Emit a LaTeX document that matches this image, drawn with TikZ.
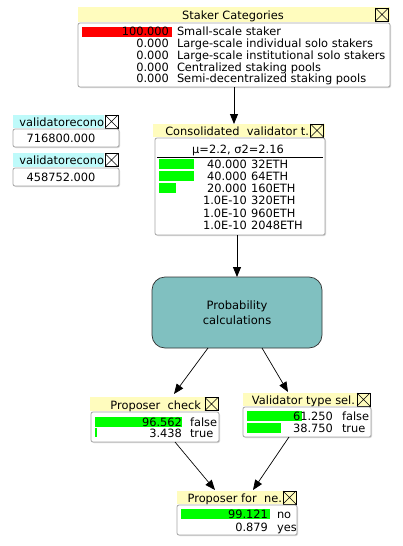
\documentclass[tikz,border=0pt]{standalone}
\usepackage{fontspec}
\setmainfont{DejaVu Sans}
\usetikzlibrary{arrows.meta,calc}
\definecolor{titley}{RGB}{255,252,190}
\definecolor{titlec}{RGB}{190,250,250}
\definecolor{tealbox}{RGB}{128,192,192}
\definecolor{barg}{RGB}{0,255,0}
\definecolor{barr}{RGB}{255,0,0}
\definecolor{bodyline}{RGB}{165,165,165}
\definecolor{shadowc}{RGB}{215,215,215}
\tikzset{
  every node/.style={inner sep=0pt, outer sep=0pt},
  txt/.style={font=\fontsize{11.4}{13}\selectfont, text=black},
  titlebar/.style={fill=titley, draw=none, rectangle},
  titlebarc/.style={fill=titlec, draw=none, rectangle},
  bodybox/.style={fill=white, draw=bodyline, line width=0.8pt, rounded corners=2pt, rectangle},
  closebox/.style={draw=black, line width=0.6pt, minimum size=13pt, rectangle},
  arr/.style={draw=black, line width=0.9pt, -{Triangle[length=10pt,width=8pt]}},
  probbox/.style={fill=tealbox, draw=black!80, line width=0.7pt, rounded corners=13pt, rectangle, align=center, font=\fontsize{11.5}{15}\selectfont},
}
\newcommand\nbox[6]{\node[#6, minimum width={(#4-#2)*1pt}, minimum height={(#5-#3)*1pt}] (#1) at ({(#2+#4)/2},{(#3+#5)/2}) {};}
\newcommand\shbox[5]{\fill[shadowc, rounded corners=2pt] (#2+1,#3+1) rectangle (#4+1,#5+1);
  \nbox{#1}{#2}{#3}{#4}{#5}{bodybox}}
\newcommand\xbox[3]{\node[closebox] (#1) at (#2,#3) {};
  \draw[line width=0.5pt] (#1.north west) -- (#1.south east) (#1.north east) -- (#1.south west);}
\newcommand\brow[6]{\node[txt, anchor=base east] (#1n) at (#2,#4) {#5};
  \node[txt, anchor=base west] (#1l) at (#3,#4) {#6};}
\begin{document}
\begin{tikzpicture}[x=1pt,y=-1pt]
\useasboundingbox (0,0) rectangle (402,546);
\fill[white] (0,0) rectangle (402,546);

% ---- Staker Categories
\nbox{stakerT}{78}{7}{390}{22}{titlebar}
\node[txt, anchor=base] (stakerTt) at (233,19.7) {Staker Categories};
\xbox{stakerX}{382}{14.5}
\shbox{stakerB}{78}{23}{390}{87}
\fill[barr] (82,27) rectangle (172,36.5);
\brow{s1}{169}{177}{35.7}{100.000}{Small-scale staker}
\brow{s2}{169}{177}{47.5}{0.000}{Large-scale individual solo stakers}
\brow{s3}{169}{177}{59.3}{0.000}{Large-scale institutional solo stakers}
\brow{s4}{169}{177}{71.1}{0.000}{Centralized staking pools}
\brow{s5}{169}{177}{82.9}{0.000}{Semi-decentralized staking pools}

% ---- validatorecono boxes
\nbox{v1T}{13}{115}{104}{128}{titlebarc}
\node[txt, anchor=base east] (v1Tt) at (104,126.3) {validatorecono};
\xbox{v1X}{111.5}{121.5}
\shbox{v1B}{13}{129}{119}{147}
\node[txt, anchor=base] (v1v) at (61,142.5) {716800.000};
\nbox{v2T}{13}{153}{104}{167}{titlebarc}
\node[txt, anchor=base east] (v2Tt) at (104,164.8) {validatorecono};
\xbox{v2X}{111.5}{160}
\shbox{v2B}{13}{168}{119}{186}
\node[txt, anchor=base] (v2v) at (61,181.5) {458752.000};

% ---- Consolidated validator
\nbox{consT}{153}{124}{325}{137}{titlebar}
\node[txt, anchor=base east] (consTt) at (309,135.7) {Consolidated\ \ validator t.};
\xbox{consX}{317}{130.5}
\shbox{consB}{155}{138}{325}{235}
\node[txt, anchor=base] (consmu) at (238,153.3) {μ=2.2, σ2=2.16};
\draw[line width=0.8pt] (157,157) -- (323,157);
\fill[barg] (159,159.3) rectangle (194,168.7);
\fill[barg] (159,170.7) rectangle (194,180.7);
\fill[barg] (159,183.3) rectangle (176,192.7);
\brow{c1}{247}{251}{168.3}{40.000}{32ETH}
\brow{c2}{247}{251}{180.5}{40.000}{64ETH}
\brow{c3}{247}{251}{192.7}{20.000}{160ETH}
\brow{c4}{247}{251}{204.9}{1.0E-10}{320ETH}
\brow{c5}{247}{251}{217.1}{1.0E-10}{960ETH}
\brow{c6}{247}{251}{229.3}{1.0E-10}{2048ETH}

% ---- Probability calculations
\node[probbox, minimum width=170pt, minimum height=71pt] (prob) at (237,312.5) {Probability\\calculations};

% ---- Proposer check
\nbox{pcT}{90}{397}{219}{411}{titlebar}
\node[txt, anchor=base east] (pcTt) at (201,409.3) {Proposer\ \ check};
\xbox{pcX}{211.5}{404}
\shbox{pcB}{91}{412}{219}{442}
\fill[barg] (95,417) rectangle (182,427);
\fill[barg] (95,428.3) rectangle (97.3,437.3);
\brow{p1}{182}{190}{426}{96.562}{false}
\brow{p2}{182}{190}{437.6}{3.438}{true}

% ---- Validator type sel.
\nbox{vtT}{243}{393}{371}{406}{titlebar}
\node[txt, anchor=base east] (vtTt) at (355,404.5) {Validator type sel.};
\xbox{vtX}{363.5}{399.5}
\shbox{vtB}{243}{407}{371}{437}
\fill[barg] (247,411) rectangle (302,421);
\fill[barg] (247,423) rectangle (281,433);
\brow{t1}{333}{342}{420.3}{61.250}{false}
\brow{t2}{333}{342}{432.6}{38.750}{true}

% ---- Proposer for ne.
\nbox{pfT}{177}{491}{297}{504}{titlebar}
\node[txt, anchor=base east] (pfTt) at (282,502.5) {Proposer for\ \ ne.};
\xbox{pfX}{289.5}{497.5}
\shbox{pfB}{177}{505}{297}{535}
\fill[barg] (181,509) rectangle (270,519);
\brow{f1}{268}{277}{518.6}{99.121}{no}
\brow{f2}{268}{277}{531}{0.879}{yes}

% ---- connectors
\draw[arr] (stakerB.south) -- (stakerB.south |- consT.north);
\draw[arr] (prob.north |- consB.south) -- (prob.north);
\draw[arr, line width=0.7pt] ([xshift=-29pt]prob.south) -- ([xshift=19.5pt,yshift=3pt]pcT.north);
\draw[arr, line width=0.7pt] ([xshift=25pt]prob.south) -- ([xshift=-19pt,yshift=1pt]vtT.north);
\draw[arr, line width=0.7pt] ([xshift=20pt]pcB.south) -- ([xshift=-22pt,yshift=1pt]pfT.north);
\draw[arr, line width=0.7pt] ([xshift=-18pt]vtB.south) -- ([xshift=16pt,yshift=1pt]pfT.north);
\end{tikzpicture}
\end{document}
